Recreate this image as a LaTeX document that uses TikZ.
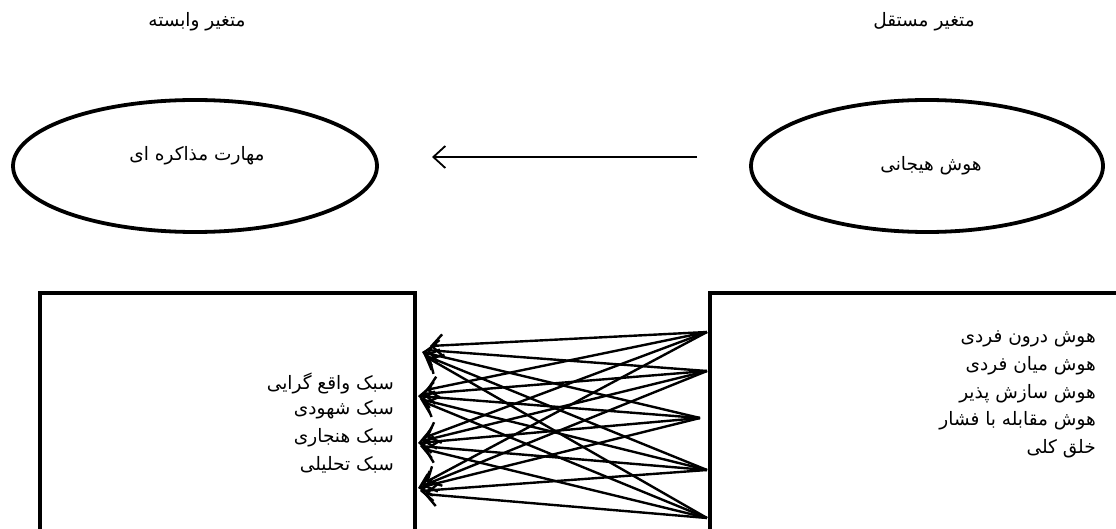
\documentclass[tikz,border=0pt]{standalone}
\usepackage{fontspec}
\usetikzlibrary{arrows.meta}
\newfontfamily\fa[Script=Arabic]{DejaVu Sans}
\TeXXeTstate=1
\begin{document}
\begin{tikzpicture}[x=1pt,y=-1pt,
  lbl/.style={font=\fa\fontsize{18.5}{21}\selectfont, inner sep=0pt},
  frame/.style={draw, line width=4pt},
  link/.style={line width=2.4pt, -{Straight Barb[length=11pt,width=22pt,line width=2.4pt]}}]
\useasboundingbox (0,0) rectangle (1116,529);
\clip (0,0) rectangle (1116,529);
% titles
\node[lbl] (tl) at (197,22) {\beginR متغیر وابسته\endR};
\node[lbl] (tr) at (924,22) {\beginR متغیر مستقل\endR};
% ellipses
\draw[line width=3.8pt] (195,166) ellipse [x radius=182, y radius=66];
\draw[line width=3.8pt] (927,166) ellipse [x radius=176, y radius=66];
\node[lbl] (dv) at (197,156) {\beginR مهارت مذاکره ای\endR};
\node[lbl] (iv) at (931,166) {\beginR هوش هیجانی\endR};
\coordinate (a1) at (697,157);
\coordinate (a2) at (432,157);
\draw[line width=1.8pt, -{Straight Barb[length=12pt,width=22pt,line width=1.8pt]}] (a1) -- (a2);
% boxes
\draw[frame] (40,540) -- (40,293) -- (415,293) -- (415,540);
\draw[frame] (710,540) -- (710,293) -- (1120,293);
% left texts
\node[lbl, anchor=east] (l1) at (394,383) {\beginR سبک واقع گرایی\endR};
\node[lbl, anchor=east] (l2) at (394,410) {\beginR سبک شهودی\endR};
\node[lbl, anchor=east] (l3) at (394,438) {\beginR سبک هنجاری\endR};
\node[lbl, anchor=east] (l4) at (394,465) {\beginR سبک تحلیلی\endR};
% right texts
\node[lbl, anchor=east] (r1) at (1096,339) {\beginR هوش درون فردی\endR};
\node[lbl, anchor=east] (r2) at (1096,366) {\beginR هوش میان فردی\endR};
\node[lbl, anchor=east] (r3) at (1096,394) {\beginR هوش سازش پذیر\endR};
\node[lbl, anchor=east] (r4) at (1096,421) {\beginR هوش مقابله با فشار\endR};
\node[lbl, anchor=east] (r5) at (1096,449) {\beginR خلق کلی\endR};
% sources and targets
\coordinate (s1) at (707,332);
\coordinate (s2) at (707,371);
\coordinate (s3) at (700,418);
\coordinate (s4) at (707,470);
\coordinate (s5) at (707,518);
\foreach \i/\dx/\dy in {1/6/-6,2/2/-2,3/-2/0,4/0/3,5/4/6}{
  \coordinate (t1\i) at (424+\dx,352+\dy);
  \coordinate (t2\i) at (420+\dx,396+\dy);
  \coordinate (t3\i) at (420+\dx,443+\dy);
  \coordinate (t4\i) at (420+\dx,488+\dy);
}
\foreach \i in {1,...,5}{
  \foreach \j in {1,...,4}{
    \draw[link] (s\i) -- (t\j\i);
  }
}
\end{tikzpicture}
\end{document}
